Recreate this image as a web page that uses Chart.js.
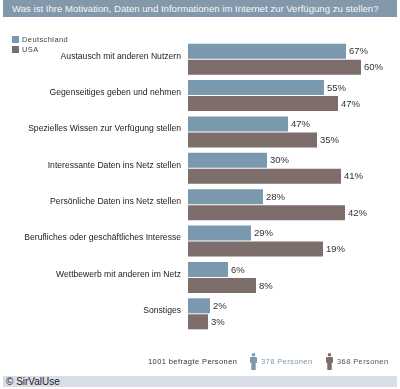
<!DOCTYPE html>
<html lang="de">
<head>
  <meta charset="UTF-8">
  <title>Motivation</title>
  <script src="https://cdn.jsdelivr.net/npm/chart.js"></script>
  <style>
    body { margin: 0; background: #fff; font-family: "Liberation Sans", Arial, sans-serif; }
    #wrap { position: relative; width: 400px; height: 389px; overflow: hidden; }
    #chart { position: absolute; left: 0; top: 0; }
    .title { position: absolute; left: 3px; top: 0; width: 394px; height: 17px; background: #8398ab;
      color: #f4f6f8; font-size: 9.6px; line-height: 17px; padding-left: 9px; box-sizing: border-box; white-space: nowrap; }
    .legend { position: absolute; left: 12px; font-size: 7.5px; letter-spacing: 0.4px; color: #444; line-height: 8px; }
    .legend span { display: inline-block; width: 7px; height: 7px; margin-right: 3px; vertical-align: -1px; }
    .foot { position: absolute; top: 357px; font-size: 7.5px; letter-spacing: 0.4px; line-height: 9px; white-space: nowrap; }
    .icon { position: absolute; top: 353px; }
    .copy { position: absolute; left: 3px; top: 376px; width: 394px; height: 11px; background: #d8dde7;
      font-size: 10px; line-height: 11px; padding-left: 3px; box-sizing: border-box; color: #222; }
  </style>
</head>
<body>
  <div id="wrap">
    <canvas id="chart" width="400" height="389"></canvas>
    <div class="title">Was ist Ihre Motivation, Daten und Informationen im Internet zur Verfügung zu stellen?</div>
    <div class="legend" style="top:36px"><span style="background:#7a99ae"></span>Deutschland</div>
    <div class="legend" style="top:46px"><span style="background:#7d6e6c"></span>USA</div>

    <div class="foot" style="left:148px;color:#333">1001 befragte Personen</div>
    <svg class="icon" style="left:250px" width="7" height="17" viewBox="0 0 7 17">
      <circle cx="3.5" cy="1.8" r="1.8" fill="#7a99ae"/>
      <rect x="0" y="4" width="7" height="6" rx="1" fill="#7a99ae"/>
      <rect x="1.3" y="9" width="4.4" height="8" fill="#7a99ae"/>
    </svg>
    <div class="foot" style="left:261px;color:#7a99ae">378 Personen</div>
    <svg class="icon" style="left:326px" width="7" height="17" viewBox="0 0 7 17">
      <circle cx="3.5" cy="1.8" r="1.8" fill="#7d6e6c"/>
      <rect x="0" y="4" width="7" height="6" rx="1" fill="#7d6e6c"/>
      <rect x="1.3" y="9" width="4.4" height="8" fill="#7d6e6c"/>
    </svg>
    <div class="foot" style="left:337px;color:#555">368 Personen</div>

    <div class="copy">© SirValUse</div>
  </div>

  <script>
    const categories = [
      'Austausch mit anderen Nutzern',
      'Gegenseitiges geben und nehmen',
      'Spezielles Wissen zur Verfügung stellen',
      'Interessante Daten ins Netz stellen',
      'Persönliche Daten ins Netz stellen',
      'Berufliches oder geschäftliches Interesse',
      'Wettbewerb mit anderen im Netz',
      'Sonstiges'
    ];
    // percentages printed next to the bars
    const deLabels = [67, 55, 47, 30, 28, 29, 6, 2];
    const usaLabels = [60, 47, 35, 41, 42, 19, 8, 3];
    // bar lengths as drawn in the original (they do not follow the printed percentages)
    const deBars = [79, 68, 50, 39.5, 37.5, 31.5, 20, 11];
    const usaBars = [86.5, 75, 64.5, 76.5, 78.5, 67.5, 34, 10];

    const valueLabels = {
      id: 'valueLabels',
      afterDatasetsDraw(chart) {
        const ctx = chart.ctx;
        const texts = [deLabels, usaLabels];
        ctx.save();
        ctx.font = '9.5px "Liberation Sans", Arial, sans-serif';
        ctx.fillStyle = '#333';
        ctx.textBaseline = 'middle';
        ctx.textAlign = 'left';
        chart.data.datasets.forEach((ds, di) => {
          chart.getDatasetMeta(di).data.forEach((bar, i) => {
            ctx.fillText(texts[di][i] + '%', bar.x + 3, bar.y + 0.5);
          });
        });
        ctx.restore();
      }
    };

    new Chart(document.getElementById('chart'), {
      type: 'bar',
      data: {
        labels: categories,
        datasets: [{
          label: 'Deutschland',
          data: deBars,
          backgroundColor: '#7a99ae',
          borderWidth: 0
        }, {
          label: 'USA',
          data: usaBars,
          backgroundColor: '#7d6e6c',
          borderWidth: 0
        }]
      },
      options: {
        indexAxis: 'y',
        responsive: false,
        animation: false,
        categoryPercentage: 0.88,
        barPercentage: 0.94,
        layout: { padding: { top: 41, bottom: 57, right: 12, left: 0 } },
        plugins: {
          legend: { display: false },
          tooltip: { enabled: false }
        },
        scales: {
          x: { display: false, min: 0, max: 100 },
          y: {
            grid: { display: false, drawTicks: false },
            border: { display: false },
            afterFit(scale) { scale.width = 188; },
            ticks: {
              padding: 7,
              labelOffset: -3,
              color: '#222',
              font: { family: '"Liberation Sans", Arial, sans-serif', size: 8.6 }
            }
          }
        }
      },
      plugins: [valueLabels]
    });
  </script>
</body>
</html>
